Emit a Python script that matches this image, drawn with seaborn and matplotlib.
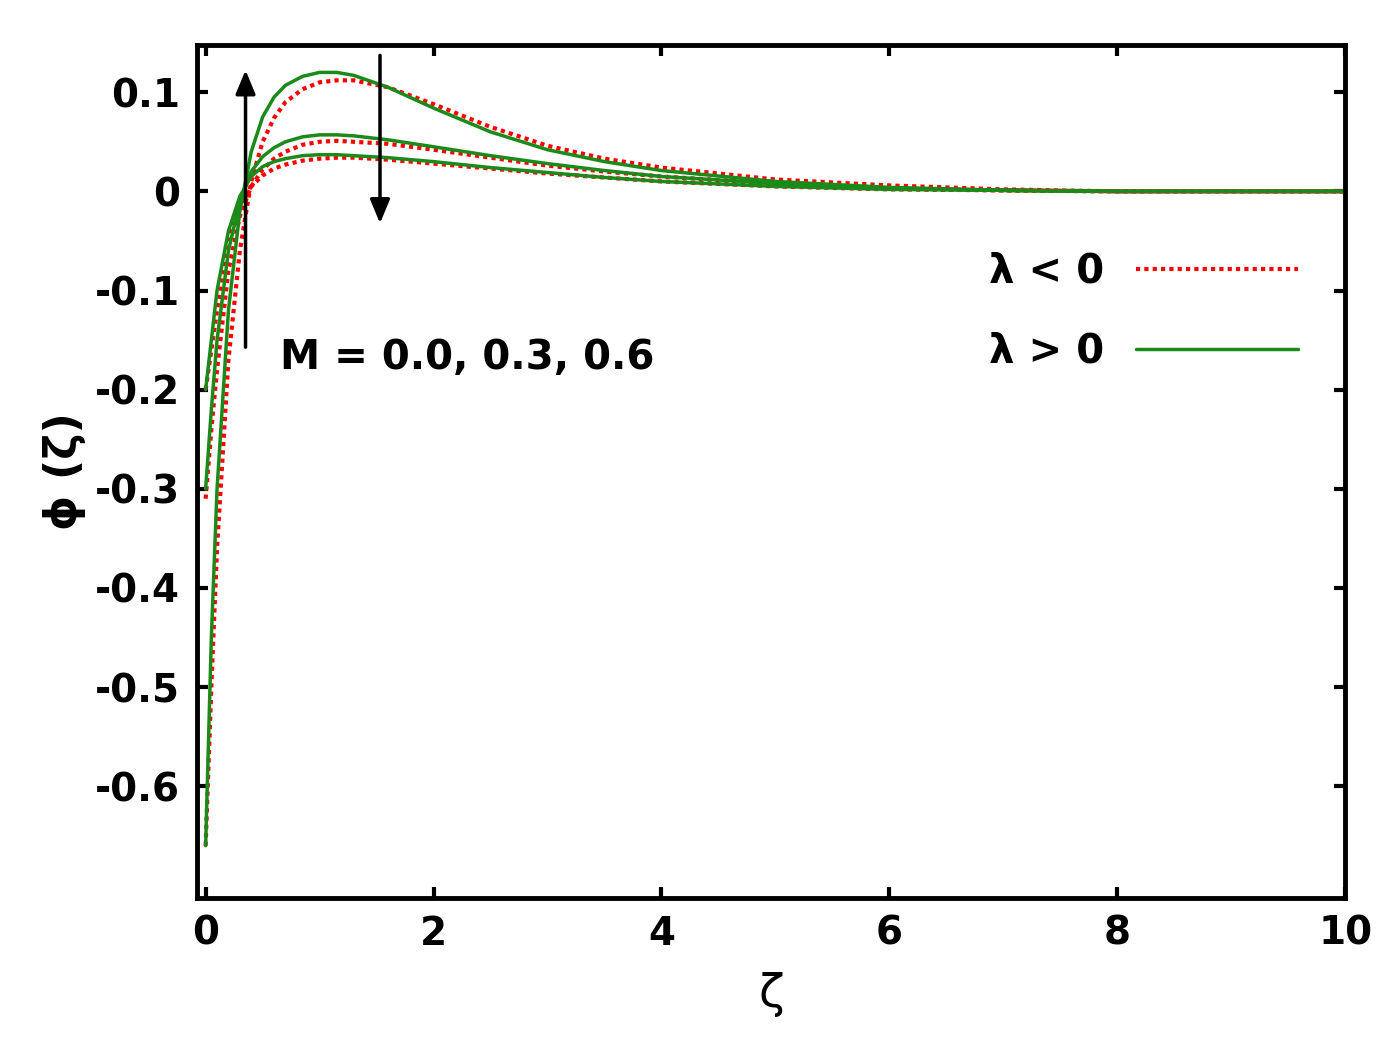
import matplotlib
matplotlib.use("Agg")
import matplotlib.pyplot as plt
import seaborn as sns

sns.set_theme(style="white")
plt.rcParams['font.family'] = ['DejaVu Sans']
plt.rcParams['text.color'] = 'black'
plt.rcParams['axes.labelcolor'] = 'black'
plt.rcParams['xtick.color'] = 'black'
plt.rcParams['ytick.color'] = 'black'

xg = [0, 0.05, 0.1, 0.2, 0.3, 0.4, 0.5, 0.6, 0.7, 0.85, 1.0, 1.15, 1.3, 1.6, 2.0, 2.5, 3.0, 3.5, 4.0, 5.0, 6.0, 7.0, 8.0, 10.0]
g1 = [-0.66, -0.45, -0.30, -0.12, -0.02, 0.04, 0.075, 0.095, 0.107, 0.116, 0.120, 0.120, 0.117, 0.105, 0.084, 0.060, 0.042, 0.030, 0.021, 0.010, 0.004, 0.001, 0.0, 0.0]
g2 = [-0.30, -0.22, -0.15, -0.06, -0.01, 0.02, 0.035, 0.044, 0.050, 0.055, 0.057, 0.057, 0.056, 0.052, 0.045, 0.036, 0.028, 0.021, 0.015, 0.008, 0.003, 0.001, 0.0, 0.0]
g3 = [-0.20, -0.15, -0.10, -0.04, -0.005, 0.015, 0.025, 0.030, 0.033, 0.036, 0.037, 0.037, 0.036, 0.034, 0.030, 0.024, 0.019, 0.014, 0.010, 0.005, 0.002, 0.001, 0.0, 0.0]
r1 = [-0.66, -0.50, -0.36, -0.17, -0.06, 0.01, 0.05, 0.074, 0.090, 0.103, 0.110, 0.112, 0.112, 0.105, 0.088, 0.065, 0.046, 0.033, 0.024, 0.012, 0.006, 0.002, 0.0, 0.0]
r2 = [-0.31, -0.24, -0.18, -0.08, -0.025, 0.005, 0.022, 0.033, 0.040, 0.047, 0.050, 0.051, 0.050, 0.048, 0.042, 0.034, 0.026, 0.020, 0.015, 0.008, 0.003, 0.001, 0.0, 0.0]
r3 = [-0.20, -0.16, -0.12, -0.05, -0.015, 0.005, 0.016, 0.023, 0.027, 0.031, 0.033, 0.034, 0.034, 0.032, 0.028, 0.023, 0.018, 0.014, 0.010, 0.005, 0.002, 0.001, 0.0, 0.0]

fig, ax = plt.subplots(figsize=(13.84, 10.63), dpi=100)
fig.subplots_adjust(left=0.142, right=0.972, top=0.958, bottom=0.155)

for i, y in enumerate([r1, r2, r3]):
    sns.lineplot(x=xg, y=y, ax=ax, color='red', linestyle=(0, (1, 1)), linewidth=3,
                 label='λ < 0' if i == 0 else None)
for i, y in enumerate([g1, g2, g3]):
    sns.lineplot(x=xg, y=y, ax=ax, color='#1a8a1a', linewidth=2.5,
                 label='λ > 0' if i == 0 else None)

ax.set_xlim(-0.08, 10)
ax.set_ylim(-0.713, 0.148)
ax.set_xticks([0, 2, 4, 6, 8, 10])
ax.set_yticks([0.1, 0, -0.1, -0.2, -0.3, -0.4, -0.5, -0.6])
ax.set_yticklabels(['0.1', '0', '-0.1', '-0.2', '-0.3', '-0.4', '-0.5', '-0.6'])
ax.tick_params(direction='in', length=8, width=3, labelsize=28, top=True, right=True,
               bottom=True, left=True, pad=12)
for t in ax.get_xticklabels() + ax.get_yticklabels():
    t.set_fontweight('bold')
for s in ax.spines.values():
    s.set_linewidth(3.5)
    s.set_color('black')
ax.set_xlabel('ζ', fontsize=34, labelpad=14)
ax.set_ylabel('ϕ (ζ)', fontsize=32, fontweight='bold', labelpad=6)

ax.annotate('', xy=(0.35, 0.125), xytext=(0.35, -0.16),
            arrowprops=dict(arrowstyle='-|>,head_length=1.2,head_width=0.5', lw=2.5, color='black'))
ax.annotate('', xy=(1.53, -0.035), xytext=(1.53, 0.14),
            arrowprops=dict(arrowstyle='-|>,head_length=1.2,head_width=0.5', lw=2.5, color='black'))
ax.text(0.65, -0.168, 'M = 0.0, 0.3, 0.6', fontsize=29, fontweight='bold', va='center')

ax.legend(loc='upper right', bbox_to_anchor=(0.99, 0.80), frameon=False, markerfirst=False,
          handlelength=4.0, labelspacing=1.0, prop={'weight': 'bold', 'size': 29})
fig.savefig('out.png', dpi=100)
